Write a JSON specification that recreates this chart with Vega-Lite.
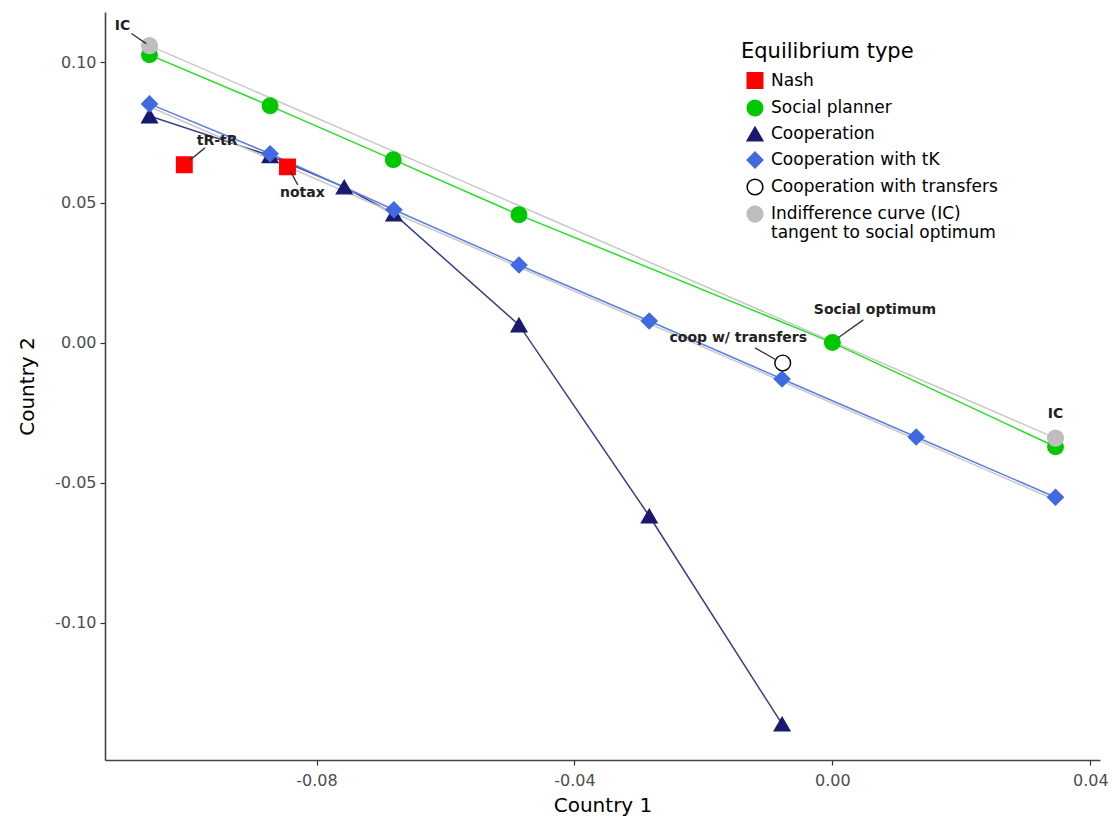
{
  "$schema": "https://vega.github.io/schema/vega-lite/v6.json",
  "width": 995,
  "height": 748,
  "autosize": {"type": "none"},
  "padding": {"left": 105, "top": 12, "right": 12, "bottom": 63},
  "background": "white",
  "config": {
    "view": {"stroke": null},
    "font": "DejaVu Sans",
    "axis": {
      "grid": false,
      "domainColor": "#444444",
      "domainWidth": 1.6,
      "tickColor": "#333333",
      "tickSize": 5,
      "tickWidth": 1.2,
      "labelColor": "#4d4d4d",
      "labelFontSize": 16,
      "labelFont": "DejaVu Sans",
      "titleFont": "DejaVu Sans",
      "titleFontSize": 20,
      "titleFontWeight": "normal",
      "titleColor": "#000000"
    }
  },
  "datasets": {
    "pts": [
      {"type": "Nash", "series": "none", "pt": true, "x": -0.1005, "y": 0.0635},
      {"type": "Nash", "series": "none", "pt": true, "x": -0.0845, "y": 0.0627},
      {"type": "Social planner", "series": "SP", "pt": true, "x": -0.1059, "y": 0.1027},
      {"type": "Social planner", "series": "SP", "pt": true, "x": -0.0872, "y": 0.0845},
      {"type": "Social planner", "series": "SP", "pt": true, "x": -0.0681, "y": 0.0653},
      {"type": "Social planner", "series": "SP", "pt": true, "x": -0.0486, "y": 0.0456},
      {"type": "Social planner", "series": "SP", "pt": true, "x": 0.0, "y": 0.0},
      {"type": "Social planner", "series": "SP", "pt": true, "x": 0.0346, "y": -0.0372},
      {"type": "Cooperation", "series": "C", "pt": true, "x": -0.1059, "y": 0.0809},
      {"type": "Cooperation", "series": "C", "pt": true, "x": -0.0872, "y": 0.0667},
      {"type": "Cooperation", "series": "C", "pt": true, "x": -0.0757, "y": 0.0555},
      {"type": "Cooperation", "series": "C", "pt": true, "x": -0.068, "y": 0.0459},
      {"type": "Cooperation", "series": "C", "pt": true, "x": -0.0486, "y": 0.0063},
      {"type": "Cooperation", "series": "C", "pt": true, "x": -0.0284, "y": -0.0619},
      {"type": "Cooperation", "series": "C", "pt": true, "x": -0.0078, "y": -0.1362},
      {"type": "Cooperation with tK", "series": "TK", "pt": true, "x": -0.1059, "y": 0.0852},
      {"type": "Cooperation with tK", "series": "TK", "pt": true, "x": -0.0872, "y": 0.0674},
      {"type": "Cooperation with tK", "series": "TK", "pt": true, "x": -0.068, "y": 0.0474},
      {"type": "Cooperation with tK", "series": "TK", "pt": true, "x": -0.0486, "y": 0.0277},
      {"type": "Cooperation with tK", "series": "TK", "pt": true, "x": -0.0284, "y": 0.0077},
      {"type": "Cooperation with tK", "series": "TK", "pt": true, "x": -0.0078, "y": -0.013},
      {"type": "Cooperation with tK", "series": "TK", "pt": true, "x": 0.013, "y": -0.0337},
      {"type": "Cooperation with tK", "series": "TK", "pt": true, "x": 0.0346, "y": -0.0552},
      {"type": "Cooperation with transfers", "series": "none", "pt": true, "x": -0.0077, "y": -0.0073},
      {"type": "Indifference curve (IC) tangent to social optimum", "series": "IC1", "pt": true, "x": -0.1059, "y": 0.106},
      {"type": "Indifference curve (IC) tangent to social optimum", "series": "IC1", "pt": true, "x": 0.0346, "y": -0.0341},
      {"type": "Indifference curve (IC) tangent to social optimum", "series": "IC2", "pt": false, "x": -0.1059, "y": 0.0842},
      {"type": "Indifference curve (IC) tangent to social optimum", "series": "IC2", "pt": false, "x": 0.0346, "y": -0.0562}
    ],
    "labels": [
      {"label": "IC", "lx": -0.1101, "ly": 0.1131, "sx": -0.1087, "sy": 0.1103, "ex": -0.1064, "ey": 0.1067},
      {"label": "tR-tR", "lx": -0.0954, "ly": 0.072, "sx": -0.0973, "sy": 0.0695, "ex": -0.0996, "ey": 0.0652},
      {"label": "notax", "lx": -0.0822, "ly": 0.0535, "sx": -0.084, "sy": 0.061, "ex": -0.0829, "ey": 0.0563},
      {"label": "Social optimum", "lx": 0.0066, "ly": 0.0116, "sx": 0.0048, "sy": 0.0081, "ex": 0.0009, "ey": 0.0017},
      {"label": "coop w/ transfers", "lx": -0.0146, "ly": 0.0017, "sx": -0.012, "sy": -0.0019, "ex": -0.0087, "ey": -0.0062},
      {"label": "IC", "lx": 0.0346, "ly": -0.0255, "sx": null, "sy": null, "ex": null, "ey": null}
    ]
  },
  "layer": [
    {
      "data": {"name": "pts"},
      "transform": [{"filter": "datum.series != 'none'"}],
      "mark": {"type": "line", "strokeWidth": 1.5},
      "encoding": {
        "x": {
          "field": "x", "type": "quantitative",
          "scale": {"domain": [-0.1128, 0.0415], "nice": false, "zero": false},
          "axis": {
            "title": "Country 1",
            "values": [-0.08, -0.04, 0, 0.04],
            "labelExpr": "(datum.value < 0 ? '-' : '') + format(abs(datum.value), '.2f')",
            "labelPadding": 7,
            "titlePadding": 7
          }
        },
        "y": {
          "field": "y", "type": "quantitative",
          "scale": {"domain": [-0.149, 0.118], "nice": false, "zero": false},
          "axis": {
            "title": "Country 2",
            "values": [-0.1, -0.05, 0, 0.05, 0.1],
            "labelExpr": "(datum.value < 0 ? '-' : '') + format(abs(datum.value), '.2f')",
            "labelPadding": 4,
            "titlePadding": 17
          }
        },
        "color": {
          "field": "type", "type": "nominal", "legend": null,
          "scale": {
            "domain": ["Social planner", "Cooperation", "Cooperation with tK", "Indifference curve (IC) tangent to social optimum"],
            "range": ["#22e022", "#3c3c86", "#5a7fe6", "#c8c8c8"]
          }
        },
        "detail": {"field": "series", "type": "nominal"},
        "order": {"field": "x", "type": "quantitative"}
      }
    },
    {
      "data": {"name": "pts"},
      "transform": [{"filter": "datum.pt"}],
      "mark": {"type": "point", "filled": true, "strokeWidth": 1.4, "opacity": 1},
      "encoding": {
        "x": {"field": "x", "type": "quantitative"},
        "y": {"field": "y", "type": "quantitative"},
        "fill": {
          "field": "type", "type": "nominal",
          "scale": {
            "domain": ["Nash", "Social planner", "Cooperation", "Cooperation with tK", "Cooperation with transfers", "Indifference curve (IC) tangent to social optimum"],
            "range": ["#ff0000", "#00c800", "#191970", "#4169e1", "#ffffff", "#bebebe"]
          },
          "legend": {
            "title": "Equilibrium type",
            "orient": "none",
            "legendX": 636,
            "legendY": 29,
            "titleFont": "DejaVu Sans",
            "titleFontSize": 21,
            "titleFontWeight": "normal",
            "titleColor": "#000000",
            "titlePadding": 10,
            "labelFont": "DejaVu Sans",
            "labelFontSize": 17,
            "labelColor": "#000000",
            "labelLimit": 0,
            "symbolOffset": 5,
            "labelOffset": 7,
            "rowPadding": 5,
            "labelExpr": "datum.label == 'Indifference curve (IC) tangent to social optimum' ? ['Indifference curve (IC)', 'tangent to social optimum'] : datum.label"
          }
        },
        "stroke": {
          "field": "type", "type": "nominal",
          "scale": {
            "domain": ["Nash", "Social planner", "Cooperation", "Cooperation with tK", "Cooperation with transfers", "Indifference curve (IC) tangent to social optimum"],
            "range": ["#ff0000", "#00c800", "#191970", "#4169e1", "#000000", "#bebebe"]
          }
        },
        "shape": {
          "field": "type", "type": "nominal",
          "scale": {
            "domain": ["Nash", "Social planner", "Cooperation", "Cooperation with tK", "Cooperation with transfers", "Indifference curve (IC) tangent to social optimum"],
            "range": ["square", "circle", "triangle-up", "diamond", "circle", "circle"]
          }
        },
        "size": {
          "field": "type", "type": "nominal",
          "scale": {
            "domain": ["Nash", "Social planner", "Cooperation", "Cooperation with tK", "Cooperation with transfers", "Indifference curve (IC) tangent to social optimum"],
            "range": [240, 250, 340, 190, 250, 130]
          }
        }
      }
    },
    {
      "data": {"name": "labels"},
      "transform": [{"filter": "datum.sx != null"}],
      "mark": {"type": "rule", "color": "#333333", "strokeWidth": 1.3},
      "encoding": {
        "x": {"field": "sx", "type": "quantitative"},
        "y": {"field": "sy", "type": "quantitative"},
        "x2": {"field": "ex"},
        "y2": {"field": "ey"}
      }
    },
    {
      "data": {"name": "labels"},
      "mark": {"type": "text", "font": "DejaVu Sans", "fontWeight": "bold", "fontSize": 14, "color": "#222222", "baseline": "middle", "align": "center"},
      "encoding": {
        "x": {"field": "lx", "type": "quantitative"},
        "y": {"field": "ly", "type": "quantitative"},
        "text": {"field": "label"}
      }
    }
  ]
}
